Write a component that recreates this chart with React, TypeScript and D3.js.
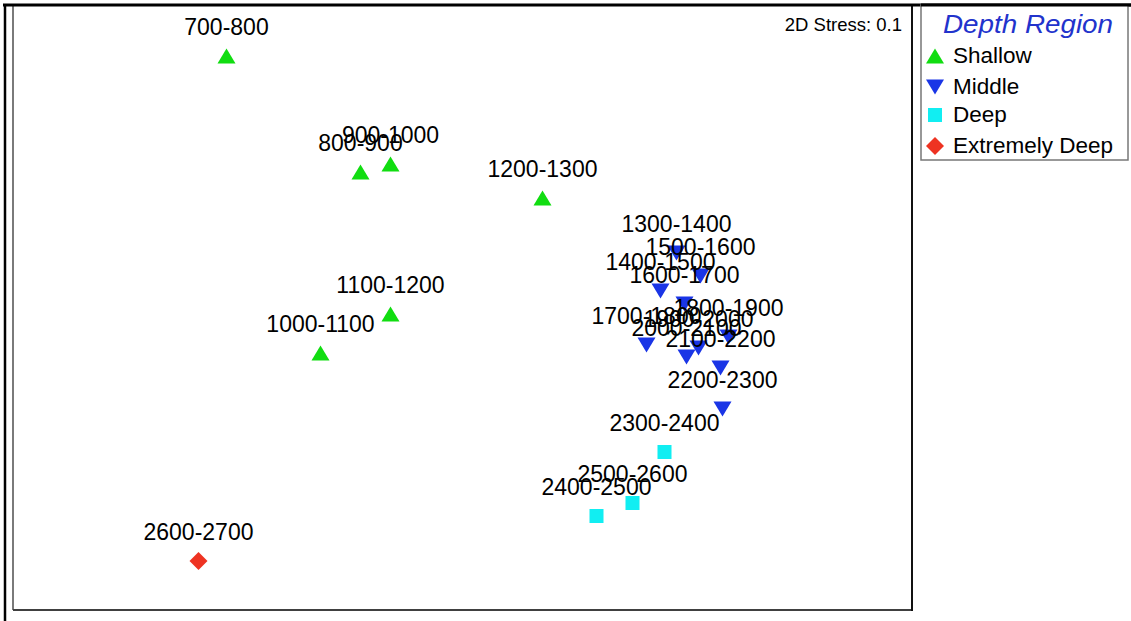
import React from "react";
import * as d3 from "d3";

// MDS ordination coordinates (arbitrary units)
const shallowLabels = ["700-800", "800-900", "900-1000", "1000-1100", "1100-1200", "1200-1300"];
const shallowX = [-1.18, -0.51, -0.36, -0.71, -0.36, 0.40];
const shallowY = [1.26, 0.68, 0.72, -0.225, -0.03, 0.55];

const middleLabels = ["1300-1400", "1400-1500", "1500-1600", "1600-1700", "1700-1800", "1800-1900", "1900-2000", "2000-2100", "2100-2200", "2200-2300"];
const middleX = [1.07, 0.99, 1.19, 1.11, 0.92, 1.33, 1.18, 1.12, 1.29, 1.30];
const middleY = [0.275, 0.085, 0.16, 0.02, -0.185, -0.145, -0.20, -0.245, -0.30, -0.505];

const deepLabels = ["2300-2400", "2400-2500", "2500-2600"];
const deepX = [1.01, 0.67, 0.85];
const deepY = [-0.72, -1.04, -0.975];

const extremeLabels = ["2600-2700"];
const extremeX = [-1.32];
const extremeY = [-1.265];

const groupNames = ["Shallow", "Middle", "Deep", "Extremely Deep"];
const groupColors = ["#11dd11", "#1a35e6", "#11eef2", "#ee3322"];
const groupShapes = ["up", "down", "square", "diamond"];

const stressText = "2D Stress: 0.1";
const legendTitle = "Depth Region";

const FONT = "Arial, 'Liberation Sans', Helvetica, sans-serif";

function Symbol({ shape, x, y, color }: { shape: string; x: number; y: number; color: string }) {
  if (shape === "up") {
    return <path d={`M${x - 9},${y + 7.5} L${x + 9},${y + 7.5} L${x},${y - 7.5} Z`} fill={color} />;
  }
  if (shape === "down") {
    return <path d={`M${x - 9},${y - 7.5} L${x + 9},${y - 7.5} L${x},${y + 7.5} Z`} fill={color} />;
  }
  if (shape === "square") {
    return <rect x={x - 7} y={y - 7} width={14} height={14} fill={color} />;
  }
  return <path d={`M${x},${y - 9} L${x + 9},${y} L${x},${y + 9} L${x - 9},${y} Z`} fill={color} />;
}

export default function App() {
  const W = 1131;
  const H = 621;
  const plotL = 13, plotR = 912, plotT = 6, plotB = 610;

  const xScale = d3.scaleLinear().domain([-2.2475, 2.2475]).range([plotL, plotR]);
  const yScale = d3.scaleLinear().domain([-1.51, 1.51]).range([plotB, plotT]);

  const groups = [
    { labels: shallowLabels, xs: shallowX, ys: shallowY },
    { labels: middleLabels, xs: middleX, ys: middleY },
    { labels: deepLabels, xs: deepX, ys: deepY },
    { labels: extremeLabels, xs: extremeX, ys: extremeY },
  ];

  const points = groups.flatMap((g, gi) =>
    g.labels.map((lab, i) => ({ label: lab, x: g.xs[i], y: g.ys[i], gi }))
  );

  const legX = 921, legY = 5, legW = 207, legH = 155;
  const legendRows = [56, 87, 115, 146];

  return (
    <svg
      width={W}
      height={H}
      style={{ position: "absolute", left: 0, top: 0, background: "#fff" }}
      fontFamily={FONT}
    >
      <rect x={0} y={0} width={W} height={H} fill="#fff" />
      {/* plot frame */}
      <line x1={plotL} y1={plotT} x2={plotL} y2={plotB} stroke="#7a7a7a" strokeWidth={2} />
      <line x1={plotL} y1={plotB} x2={plotR + 1} y2={plotB} stroke="#404040" strokeWidth={2} />
      <line x1={plotR} y1={plotT} x2={plotR} y2={plotB + 1} stroke="#111" strokeWidth={2} />
      {/* outer frame */}
      <line x1={3} y1={5} x2={W} y2={5} stroke="#000" strokeWidth={3} />
      <line x1={5} y1={4} x2={5} y2={H} stroke="#000" strokeWidth={2.5} />

      {/* points */}
      {points.map((p, i) => (
        <Symbol key={"s" + i} shape={groupShapes[p.gi]} x={xScale(p.x)} y={yScale(p.y)} color={groupColors[p.gi]} />
      ))}
      {points.map((p, i) => (
        <text
          key={"t" + i}
          x={xScale(p.x)}
          y={yScale(p.y) - 21}
          textAnchor="middle"
          fontSize={23}
          fill="#000"
        >
          {p.label}
        </text>
      ))}

      <text x={902} y={31} textAnchor="end" fontSize={18.5} fill="#000">
        {stressText}
      </text>

      {/* legend */}
      <rect x={legX} y={legY} width={legW} height={legH} fill="#fff" stroke="#777" strokeWidth={1.5} />
      <line x1={legX} y1={5} x2={W} y2={5} stroke="#000" strokeWidth={3} />
      <text
        x={943}
        y={33}
        fontSize={25}
        fontStyle="italic"
        fill="#2233cc"
        textLength={170}
        lengthAdjust="spacingAndGlyphs"
      >
        {legendTitle}
      </text>
      {groupNames.map((name, i) => (
        <g key={name}>
          <Symbol shape={groupShapes[i]} x={935} y={legendRows[i]} color={groupColors[i]} />
          <text x={953} y={legendRows[i] + 7} fontSize={22.5} fill="#000">
            {name}
          </text>
        </g>
      ))}
    </svg>
  );
}
